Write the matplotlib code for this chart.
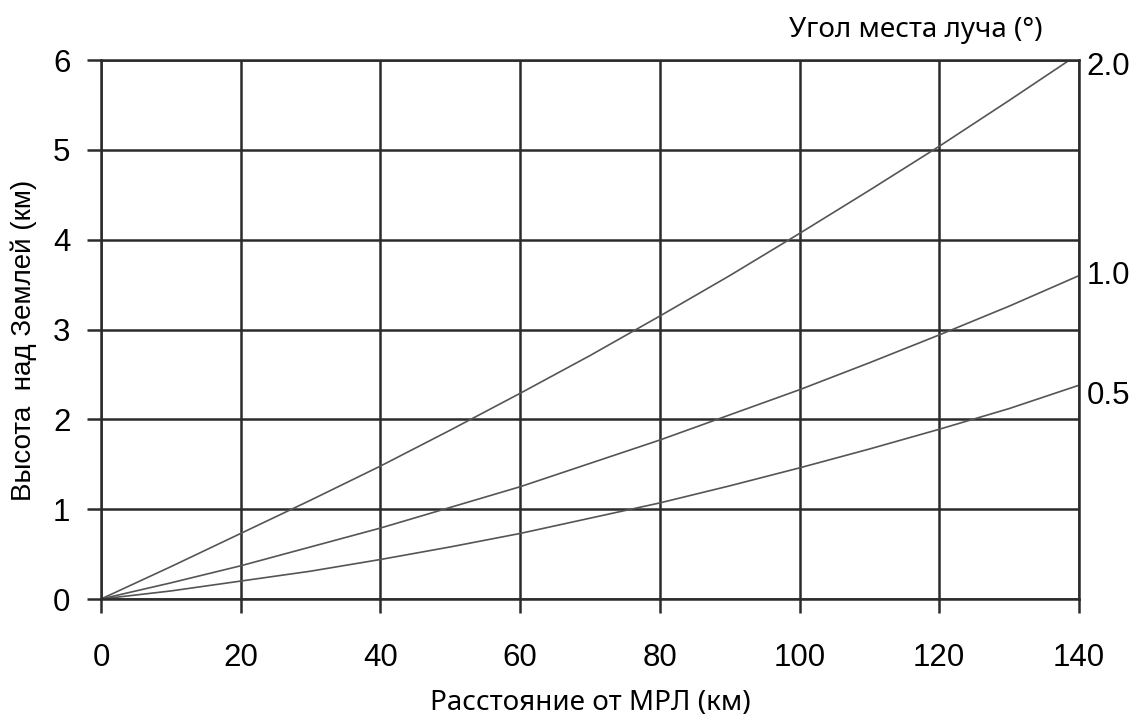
import matplotlib
matplotlib.use('Agg')
import matplotlib.pyplot as plt

# distance from radar (km) and beam height (km) for each elevation angle
distance = [0, 10, 20, 30, 40, 50, 60, 70, 80, 90, 100, 110, 120, 130, 140]
height_20 = [0, 0.36, 0.73, 1.10, 1.48, 1.88, 2.29, 2.71, 3.15, 3.60, 4.07, 4.55, 5.04, 5.55, 6.07]
height_10 = [0, 0.18, 0.37, 0.58, 0.79, 1.02, 1.25, 1.51, 1.77, 2.05, 2.33, 2.63, 2.94, 3.26, 3.60]
height_05 = [0, 0.09, 0.20, 0.31, 0.44, 0.58, 0.73, 0.90, 1.07, 1.26, 1.46, 1.67, 1.89, 2.12, 2.38]
angle_labels = ['2.0', '1.0', '0.5']
x_ticks = [0, 20, 40, 60, 80, 100, 120, 140]
y_ticks = [0, 1, 2, 3, 4, 5, 6]

grid_color = '#2b2b2b'
curve_color = '#555555'

fig = plt.figure(figsize=(11.42, 7.2), dpi=100)
ax = fig.add_axes([0.0884, 0.168, 0.8564, 0.7486])

# label offsets (axes fraction) so labels sit beside the curve ends like the original
label_shift = [-0.012, 0.0, -0.02]
for h, lab, dy in zip([height_20, height_10, height_05], angle_labels, label_shift):
    ax.plot(distance, h, color=curve_color, linewidth=1.2)
    ax.text(1.008, min(h[-1], 6.0) / 6.0 + dy, lab, transform=ax.transAxes,
            ha='left', va='center', fontsize=22.5, family='Liberation Sans')

ax.set_xlim(0, 140)
ax.set_ylim(0, 6)
ax.set_xticks(x_ticks)
ax.set_yticks(y_ticks)
ax.grid(True, color=grid_color, linewidth=1.8)
for s in ax.spines.values():
    s.set_color(grid_color)
    s.set_linewidth(1.8)
ax.tick_params(length=10, width=1.8, color=grid_color, labelsize=22.5)
ax.tick_params(axis='x', pad=22)
ax.tick_params(axis='y', pad=12)
for t in ax.get_xticklabels() + ax.get_yticklabels():
    t.set_family('Liberation Sans')

ax.set_xlabel('Расстояние от МРЛ (км)', fontsize=20, family='Noto Sans')
ax.xaxis.set_label_coords(0.5, -0.167)
ax.set_ylabel('Высота  над Землей (км)', fontsize=20, family='Liberation Sans')
ax.yaxis.set_label_coords(-0.065, 0.48)
fig.text(0.802, 0.958, 'Угол места луча (°)', fontsize=20, family='Noto Sans',
         ha='center', va='center')

fig.savefig('out.png', dpi=100)
